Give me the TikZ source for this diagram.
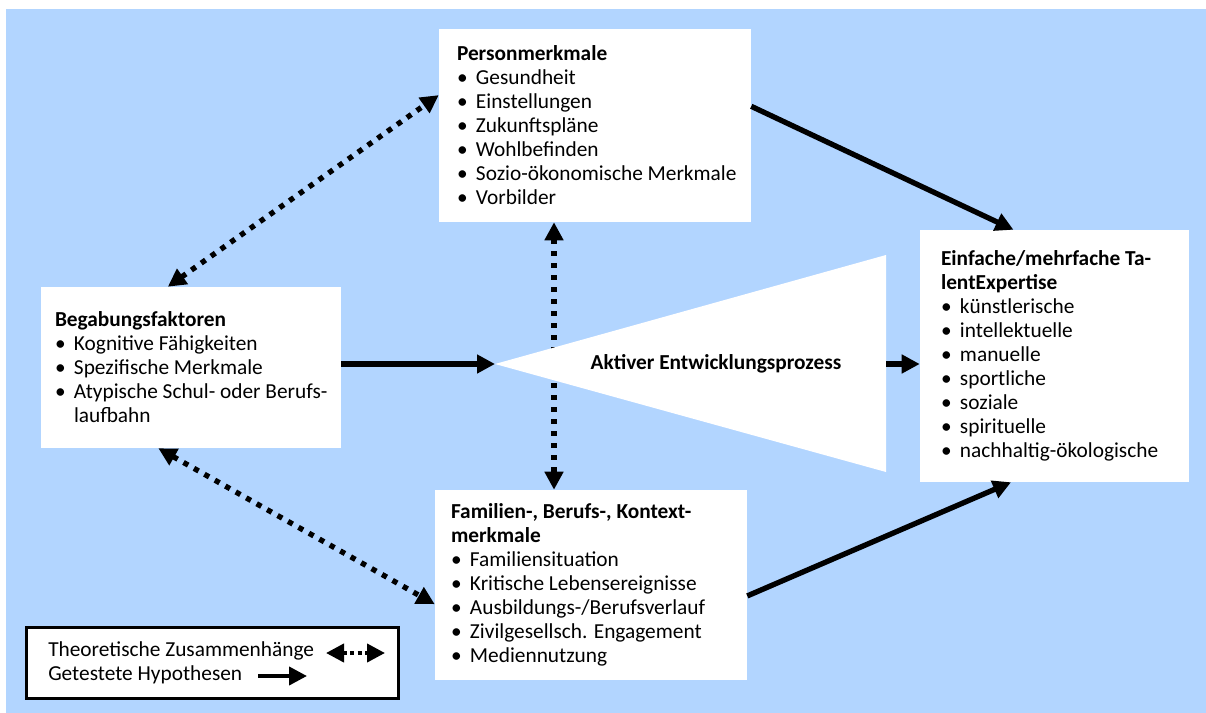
\documentclass[tikz,border=0pt]{standalone}
\usepackage{fontspec}
\setmainfont{Carlito}
\usetikzlibrary{arrows.meta,calc}
\definecolor{bgblue}{RGB}{178,213,255}
\newcommand\itm{\makebox[14.25pt][l]{\textbullet}}

\begin{document}
\begin{tikzpicture}[x=0.75pt,y=-0.75pt,
        font=\fontsize{16pt}{18pt}\selectfont,
        infobox/.style={fill=white,inner sep=0pt},
        boxtext/.style={align=left,inner sep=0pt,anchor=west},
        tested/.style={-{Triangle[length=13.5pt,width=13.5pt]},line width=4pt},
        theory/.style={{Triangle[length=13.5pt,width=13.5pt]}-{Triangle[length=13.5pt,width=13.5pt]},
            line width=4pt,dash pattern=on 4pt off 5pt}]
    \useasboundingbox (0,0) rectangle (1206,713);
    % background
    \fill[white] (0,0) rectangle (1206,713);
    \fill[bgblue] (6,9) rectangle (1206,713);

    % the boxes
    \node[infobox,minimum width=234pt,minimum height=144.75pt] (person) at (595,125.5) {};
    \node[infobox,minimum width=225pt,minimum height=120.75pt] (begabung) at (191,367.5) {};
    \node[infobox,minimum width=201.75pt,minimum height=189pt] (talent) at (1054.5,356) {};
    \node[infobox,minimum width=234pt,minimum height=142.5pt] (familie) at (591,585) {};
    \coordinate (apex) at (495,364);
    \coordinate (tribase) at (886,364);

    % theoretical links
    \draw[theory] (begabung.106.6) -- (person.169.6);
    \draw[theory] (begabung.248) -- (familie.187.4);
    \coordinate (pf-top) at ([xshift=-30.75pt]person.south);
    \draw[theory] (pf-top) -- (pf-top |- familie.north);

    % development process
    \fill[white] (apex) -- (886,255) -- (886,472) -- cycle;
    \node[font=\fontsize{16pt}{18pt}\selectfont\bfseries] (process) at (716,364) {Aktiver Entwicklungsprozess};

    % box texts
    \node[boxtext] (person-text) at ([xshift=13.5pt]person.west)
        {\textbf{Personmerkmale}\\ \itm Gesundheit\\ \itm Einstellungen\\ \itm Zukunftspläne\\
         \itm Wohlbefinden\\ \itm Sozio-ökonomische Merkmale\\ \itm Vorbilder};
    \node[boxtext] (begabung-text) at ([xshift=10.5pt]begabung.west)
        {\textbf{Begabungsfaktoren}\\ \itm Kognitive Fähigkeiten\\ \itm Spezifische Merkmale\\
         \itm Atypische Schul- oder Berufs-\\ \hspace*{14.25pt}laufbahn};
    \node[boxtext] (talent-text) at ([xshift=15.75pt]talent.west)
        {\textbf{Einfache/mehrfache Ta-}\\ \textbf{lentExpertise}\\ \itm künstlerische\\ \itm intellektuelle\\
         \itm manuelle\\ \itm sportliche\\ \itm soziale\\ \itm spirituelle\\ \itm nachhaltig-ökologische};
    \node[boxtext] (familie-text) at ([xshift=12pt]familie.west)
        {\textbf{Familien-, Berufs-, Kontext-}\\ \textbf{merkmale}\\ \itm Familiensituation\\
         \itm Kritische Lebensereignisse\\ \itm Ausbildungs-/Berufsverlauf\\
         \itm Zivilgesellsch. Engagement\\ \itm Mediennutzung};

    % tested hypotheses
    \draw[tested] (begabung.east |- apex) -- (apex);
    \draw[tested] (tribase) -- (tribase -| talent.west);
    \draw[tested] (person.7.85) -- (talent.108.2);
    \draw[tested] (familie.-4) -- (talent.251.8);

    % legend
    \node[infobox,draw,line width=2.25pt,minimum width=279pt,minimum height=53.25pt] (legend) at (212.5,663) {};
    \node[boxtext] (legend-text) at ([xshift=17.25pt]legend.west)
        {Theoretische Zusammenhänge\\ Getestete Hypothesen};
    \coordinate (lg-theory-a) at (326,653);
    \coordinate (lg-theory-b) at (385,653);
    \coordinate (lg-tested-a) at (258,676);
    \coordinate (lg-tested-b) at (307,676);
    \draw[theory,line width=3pt,dash pattern=on 3pt off 2.5pt] (lg-theory-a) -- (lg-theory-b);
    \draw[tested,line width=3pt] (lg-tested-a) -- (lg-tested-b);
\end{tikzpicture}
\end{document}
